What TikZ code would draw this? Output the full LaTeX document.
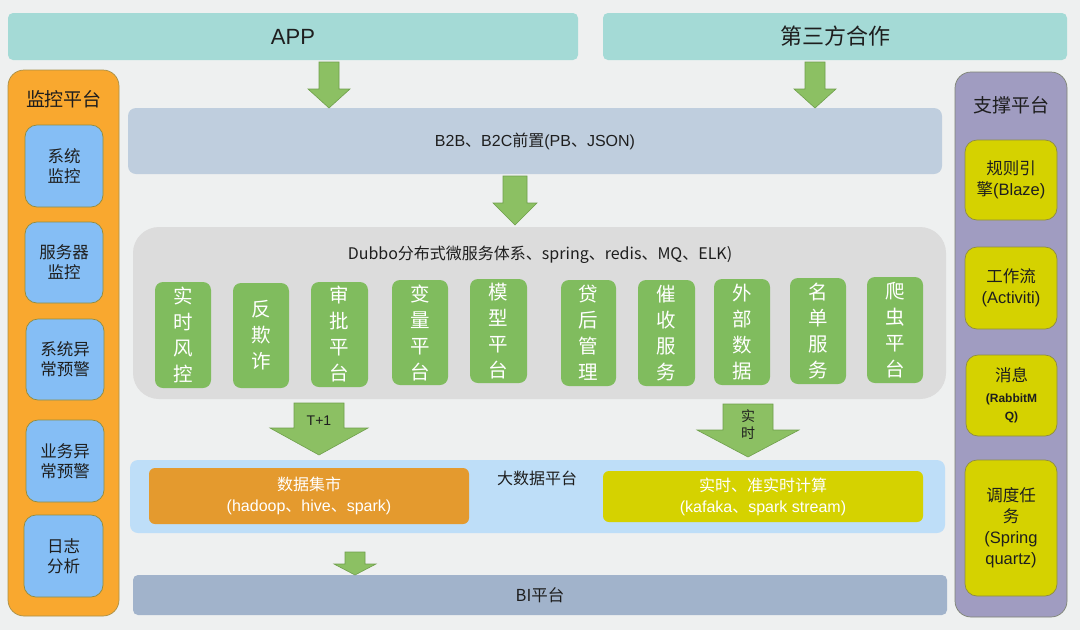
\documentclass[tikz,border=0pt]{standalone}
\usepackage{fontspec}
\setmainfont{Noto Sans CJK SC}
\newfontfamily\lat{Liberation Sans}
\definecolor{bgc}{HTML}{EEF0F0}
\definecolor{topc}{HTML}{A4DAD6}
\definecolor{orangec}{HTML}{F9A82F}
\definecolor{orangeb}{HTML}{A89048}
\definecolor{bluec}{HTML}{85BEF5}
\definecolor{oliveb}{HTML}{8E8C42}
\definecolor{purplec}{HTML}{A09CC1}
\definecolor{purpleb}{HTML}{7E8474}
\definecolor{yelc}{HTML}{D5D200}
\definecolor{b2bc}{HTML}{BFCEDE}
\definecolor{greyc}{HTML}{DCDCDC}
\definecolor{greenc}{HTML}{80BC5E}
\definecolor{arrowc}{HTML}{8CC063}
\definecolor{arrowb}{HTML}{6F9F4C}
\definecolor{bdc}{HTML}{BEDEF8}
\definecolor{martc}{HTML}{E49A2E}
\definecolor{bic}{HTML}{A1B3CB}
\definecolor{txtc}{HTML}{1E1E1E}
\tikzset{
  base/.style={inner sep=0pt, align=center, text=txtc},
  topbar/.style={base, fill=topc, rounded corners=5pt, font=\fontsize{22}{25}\selectfont},
  orangepanel/.style={base, fill=orangec, draw=orangeb, line width=0.7pt, rounded corners=16pt},
  purplepanel/.style={base, fill=purplec, draw=purpleb, line width=0.7pt, rounded corners=16pt},
  paneltitle/.style={base, font=\fontsize{19}{22}\selectfont},
  bluebox/.style={base, fill=bluec, draw=oliveb, line width=0.7pt, rounded corners=12pt, font=\fontsize{16.5}{20}\selectfont},
  ybox/.style={base, fill=yelc, draw=oliveb, line width=0.7pt, rounded corners=12pt, font=\fontsize{16.5}{21}\selectfont},
  b2bbar/.style={base, fill=b2bc, rounded corners=8pt, font=\fontsize{16}{19}\selectfont},
  greypanel/.style={base, fill=greyc, rounded corners=26pt},
  midtitle/.style={base, font=\fontsize{16}{19}\selectfont},
  gbox/.style={base, fill=greenc, rounded corners=8pt, text=white, font=\fontsize{19.5}{26}\selectfont},
  bdpanel/.style={base, fill=bdc, rounded corners=8pt},
  martbox/.style={base, fill=martc, rounded corners=6pt, text=white, font=\fontsize{16}{21}\selectfont},
  rtbox/.style={base, fill=yelc, rounded corners=6pt, text=white, font=\fontsize{16}{21}\selectfont},
  bibar/.style={base, fill=bic, rounded corners=5pt, font=\fontsize{16.5}{19}\selectfont},
  fatarrow/.style={fill=arrowc, draw=arrowb, line width=0.6pt, line join=miter},
  arrowlabel/.style={base, font=\fontsize{14}{17}\selectfont}
}
\newcommand\blk[7]{\node[#6, minimum width={#4pt-#2pt}, minimum height={#5pt-#3pt}] (#1) at ({(#2+#4)/2},{(#3+#5)/2}) {#7};}
\newcommand\fat[6]{\draw[fatarrow] ({#1-#4},#2) -- ({#1+#4},#2) -- ({#1+#4},#6) -- ({#1+#5},#6) -- (#1,#3) -- ({#1-#5},#6) -- ({#1-#4},#6) -- cycle;}
\begin{document}
\begin{tikzpicture}[x=1pt,y=-1pt]
\useasboundingbox (0,0) rectangle (1080,630);
\fill[bgc] (0,0) rectangle (1080,630);

% top bars
\blk{app}{8}{13}{578}{60}{topbar}{\lat APP}
\blk{third}{603}{13}{1067}{60}{topbar}{第三方合作}

% left panel
\blk{mon}{8}{70}{119}{616}{orangepanel}{}
\node[paneltitle] (montitle) at (64,99) {监控平台};
\blk{m1}{25}{125}{103}{207}{bluebox}{系统\\监控}
\blk{m2}{25}{222}{103}{303}{bluebox}{服务器\\监控}
\blk{m3}{26}{319}{104}{400}{bluebox}{系统异\\常预警}
\blk{m4}{26}{420}{104}{502}{bluebox}{业务异\\常预警}
\blk{m5}{24}{515}{103}{597}{bluebox}{日志\\分析}

% right panel
\blk{sup}{955}{72}{1067}{617}{purplepanel}{}
\node[paneltitle] (suptitle) at (1011,105) {支撑平台};
\blk{s1}{965}{140}{1057}{220}{ybox}{规则引\\擎{\lat (Blaze)}}
\blk{s2}{965}{247}{1057}{329}{ybox}{工作流\\{\lat (Activiti)}}
\blk{s3}{966}{355}{1057}{436}{ybox}{消息\\{\lat\bfseries\fontsize{12}{14}\selectfont (RabbitM}\\[-3pt]{\lat\bfseries\fontsize{12}{14}\selectfont Q)}}
\blk{s4}{965}{460}{1057}{596}{ybox}{调度任\\务\\{\lat (Spring}\\{\lat quartz)}}

% middle
\blk{b2b}{128}{108}{942}{174}{b2bbar}{{\lat B2B}、{\lat B2C}前置{\lat (PB}、{\lat JSON)}}
\blk{dubbo}{133}{227}{946}{399}{greypanel}{}
\node[midtitle] (dubbotitle) at (540,255) {Dubbo分布式微服务体系、spring、redis、MQ、ELK)};
\blk{g1}{155}{282}{211}{388}{gbox}{实\\时\\风\\控}
\blk{g2}{233}{283}{289}{388}{gbox}{反\\欺\\诈}
\blk{g3}{311}{282}{368}{387}{gbox}{审\\批\\平\\台}
\blk{g4}{392}{280}{448}{385}{gbox}{变\\量\\平\\台}
\blk{g5}{470}{279}{527}{383}{gbox}{模\\型\\平\\台}
\blk{g6}{561}{280}{616}{386}{gbox}{贷\\后\\管\\理}
\blk{g7}{638}{280}{695}{386}{gbox}{催\\收\\服\\务}
\blk{g8}{714}{279}{770}{385}{gbox}{外\\部\\数\\据}
\blk{g9}{790}{278}{846}{384}{gbox}{名\\单\\服\\务}
\blk{g10}{867}{277}{923}{383}{gbox}{爬\\虫\\平\\台}

\blk{bd}{130}{460}{945}{533}{bdpanel}{}
\node[midtitle] (bdtitle) at (537,478) {大数据平台};
\blk{mart}{149}{468}{469}{524}{martbox}{数据集市\\{\lat (hadoop}、{\lat hive}、{\lat spark)}}
\blk{rt}{603}{471}{923}{522}{rtbox}{实时、准实时计算\\{\lat (kafaka}、{\lat spark stream)}}
\blk{bi}{133}{575}{947}{615}{bibar}{BI平台}

% arrows
\fat{329}{62}{108}{10}{21}{89}
\fat{815}{62}{108}{10}{21}{89}
\fat{515}{176}{225}{12}{22}{203}
\fat{319}{403}{455}{25}{49}{428}
\node[arrowlabel] (t1) at (319,421) {\lat T+1};
\fat{748}{404}{457}{25}{51}{430}
\node[arrowlabel] (rtl) at (748,425) {实\\时};
\fat{355}{552}{575}{10}{21}{564}
\end{tikzpicture}
\end{document}
